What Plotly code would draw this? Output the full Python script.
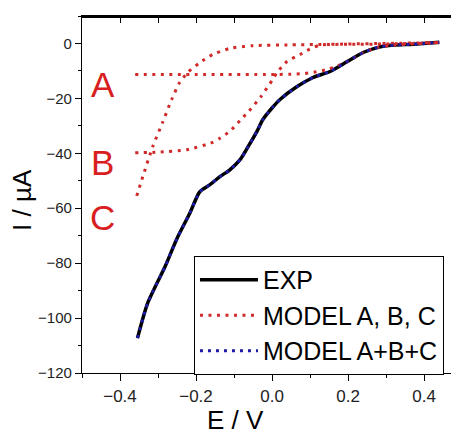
import plotly.graph_objects as go

# EXP curve
exp_x = [-0.354, -0.327, -0.282, -0.25, -0.216, -0.19, -0.164, -0.137, -0.111, -0.084,
         -0.063, -0.040, -0.024, 0.0, 0.021, 0.066, 0.108, 0.153, 0.198, 0.240, 0.277,
         0.32, 0.372, 0.44]
exp_y = [-107.3, -94.5, -81.4, -71.0, -61.7, -54.0, -51.5, -48.5, -46.0, -42.3,
         -37.6, -32.1, -27.7, -23.5, -20.4, -15.7, -12.4, -10.2, -6.6, -3.3, -1.5,
         -0.6, -0.3, 0.4]

# Model A
a_x = [-0.36, -0.2, 0.0, 0.05, 0.08, 0.11, 0.15, 0.2, 0.24, 0.28, 0.32, 0.37, 0.44]
a_y = [-11.3, -11.3, -11.3, -11.2, -11.0, -10.5, -9.3, -6.5, -3.3, -1.4, -0.6, -0.2, 0.4]

# Model B
b_x = [-0.36, -0.3, -0.224, -0.156, -0.137, -0.111, -0.084, -0.06, -0.03, 0.0, 0.013,
       0.04, 0.074, 0.10, 0.127, 0.2, 0.3, 0.44]
b_y = [-39.8, -39.6, -38.7, -36.0, -34.5, -32.0, -28.0, -24.5, -19.5, -13.5, -10.6,
       -6.5, -4.0, -2.0, -0.6, -0.2, 0.0, 0.3]

# Model C
c_x = [-0.356, -0.34, -0.314, -0.288, -0.264, -0.243, -0.222, -0.19, -0.156, -0.111,
       -0.05, 0.05, 0.2, 0.3, 0.44]
c_y = [-55.5, -48.5, -37.6, -28.8, -20.4, -14.2, -10.6, -7.0, -4.0, -1.8,
       -0.8, -0.5, -0.3, -0.2, 0.3]

# Model A+B+C (follows EXP)
sum_x = exp_x
sum_y = exp_y

labels = ["A", "B", "C"]
label_y = [-15.0, -43.4, -63.5]
label_x = -0.446

RED = "#d02a2a"
LRED = "#d81e1e"
BLUE = "#1c1ca8"
FONT = "Liberation Sans, Arial, sans-serif"
DOT = "3px,5.5px"

fig = go.Figure()
fig.add_trace(go.Scatter(x=exp_x, y=exp_y, mode="lines", name="EXP",
                         line=dict(color="black", width=3.5, shape="spline", smoothing=0.7)))
fig.add_trace(go.Scatter(x=a_x, y=a_y, mode="lines", name="MODEL A, B, C",
                         legendgroup="m",
                         line=dict(color=RED, width=3, dash=DOT, shape="spline", smoothing=0.6)))
fig.add_trace(go.Scatter(x=b_x, y=b_y, mode="lines", showlegend=False,
                         legendgroup="m",
                         line=dict(color=RED, width=3, dash=DOT, shape="spline", smoothing=0.6)))
fig.add_trace(go.Scatter(x=c_x, y=c_y, mode="lines", showlegend=False,
                         legendgroup="m",
                         line=dict(color=RED, width=3, dash=DOT, shape="spline", smoothing=0.6)))
fig.add_trace(go.Scatter(x=sum_x, y=sum_y, mode="lines", name="MODEL A+B+C",
                         xaxis="x2", yaxis="y2",
                         line=dict(color=BLUE, width=3, dash="3px,5px", shape="spline",
                                   smoothing=0.7)))

for t, yy in zip(labels, label_y):
    fig.add_annotation(x=label_x, y=yy, xref="x", yref="y", text=t, showarrow=False,
                       xanchor="center", yanchor="middle",
                       font=dict(size=35, color=LRED, family=FONT))

fig.add_annotation(x=0.406, y=-0.133, xref="paper", yref="paper", text="E / V",
                   xanchor="center", yanchor="middle",
                   showarrow=False, font=dict(size=26, color="black", family=FONT))
fig.add_annotation(x=-0.159, y=0.485, xref="paper", yref="paper", text="I / µA",
                   xanchor="center", yanchor="middle",
                   textangle=-90, showarrow=False,
                   font=dict(size=26, color="black", family=FONT))

# plot frame (top edge)
fig.add_shape(type="line", xref="paper", yref="paper", x0=0, x1=1, y0=0.997, y1=0.997,
              line=dict(color="black", width=2), layer="above")

xr = [-0.5, 0.492]
yr = [-120, 10]
fig.update_layout(
    width=451, height=427,
    margin=dict(l=74, r=0, t=8, b=62),
    paper_bgcolor="white", plot_bgcolor="white",
    font=dict(family=FONT, color="#222"),
    showlegend=True,
    legend=dict(x=0.297, y=0.328, xanchor="left", yanchor="top",
                bgcolor="white", bordercolor="black", borderwidth=1,
                font=dict(size=25, color="black", family=FONT),
                itemwidth=58, tracegroupgap=0, traceorder="normal"),
    xaxis=dict(range=xr, showgrid=False, zeroline=False, showline=True, mirror=True,
               linecolor="black", linewidth=1.3, ticks="outside", ticklen=7,
               tickwidth=1.2, tickcolor="black", dtick=0.2, tick0=0,
               tickformat=".1f", tickfont=dict(size=17, color="#222"),
               minor=dict(dtick=0.1, ticks="outside", ticklen=3.5, tickcolor="black",
                          tickwidth=1.2)),
    yaxis=dict(range=yr, showgrid=False, zeroline=False, showline=True, mirror=True,
               linecolor="black", linewidth=1.3, ticks="outside", ticklen=6,
               tickwidth=1.2, tickcolor="black", dtick=20, tick0=0,
               tickfont=dict(size=15, color="#222"),
               minor=dict(dtick=10, ticks="outside", ticklen=3, tickcolor="black",
                          tickwidth=1.2)),
    xaxis2=dict(range=xr, overlaying="x", side="top", showgrid=False,
                zeroline=False, showline=True, linecolor="black", linewidth=1.3,
                ticks="inside", ticklen=7, tickwidth=1.2, tickcolor="black",
                dtick=0.1, tick0=0, showticklabels=False),
    yaxis2=dict(range=yr, overlaying="y", side="right", showgrid=False,
                zeroline=False, showline=True, linecolor="black", linewidth=1.3,
                ticks="inside", ticklen=5, tickwidth=1.2, tickcolor="black",
                dtick=20, tick0=0, showticklabels=False,
                minor=dict(dtick=10, ticks="inside", ticklen=2.5, tickcolor="black",
                           tickwidth=1.2)),
)

fig.write_html("out.html")
